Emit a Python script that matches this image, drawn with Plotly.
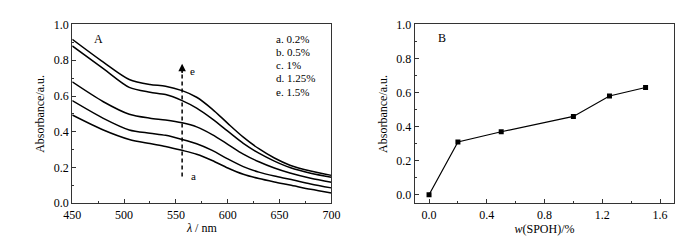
import plotly.graph_objects as go

wavelength = [450, 480, 505, 525, 540, 556, 570, 585, 600, 615, 630, 645, 660, 680, 700]
abs_a = [0.494, 0.410, 0.357, 0.334, 0.318, 0.296, 0.274, 0.239, 0.197, 0.162, 0.138, 0.119, 0.102, 0.078, 0.058]
abs_b = [0.574, 0.475, 0.410, 0.392, 0.380, 0.357, 0.333, 0.296, 0.248, 0.205, 0.174, 0.152, 0.134, 0.108, 0.086]
abs_c = [0.679, 0.568, 0.498, 0.476, 0.466, 0.450, 0.427, 0.384, 0.330, 0.275, 0.232, 0.197, 0.169, 0.140, 0.118]
abs_d = [0.880, 0.753, 0.648, 0.621, 0.608, 0.574, 0.532, 0.472, 0.403, 0.335, 0.280, 0.236, 0.200, 0.168, 0.146]
abs_e = [0.917, 0.789, 0.692, 0.664, 0.655, 0.630, 0.593, 0.527, 0.447, 0.370, 0.305, 0.253, 0.213, 0.180, 0.156]
legend_labels = ["a. 0.2%", "b. 0.5%", "c. 1%", "d. 1.25%", "e. 1.5%"]

spoh = [0.0, 0.2, 0.5, 1.0, 1.25, 1.5]
abs_556 = [0.0, 0.31, 0.37, 0.46, 0.58, 0.63]

FONT = "Liberation Serif, Times New Roman, serif"
fig = go.Figure()

for ys in [abs_a, abs_b, abs_c, abs_d, abs_e]:
    fig.add_trace(go.Scatter(x=wavelength, y=ys, mode="lines",
                             line=dict(color="black", width=1.5, shape="spline", smoothing=0.8),
                             xaxis="x", yaxis="y", showlegend=False))

# dashed arrow
fig.add_trace(go.Scatter(x=[556, 556], y=[0.15, 0.74], mode="lines",
                         line=dict(color="black", width=1.5, dash="4px,3px"),
                         xaxis="x", yaxis="y", showlegend=False))
fig.add_annotation(x=556, y=0.78, ax=556, ay=0.72, xref="x", yref="y", axref="x", ayref="y",
                   showarrow=True, arrowhead=2, arrowsize=1, arrowwidth=1.5, arrowcolor="black", text="")
fig.add_annotation(x=566, y=0.74, xref="x", yref="y", text="e", showarrow=False, font=dict(family=FONT, size=11, color="black"))
fig.add_annotation(x=567, y=0.15, xref="x", yref="y", text="a", showarrow=False, font=dict(family=FONT, size=11, color="black"))
fig.add_annotation(x=475, y=0.92, xref="x", yref="y", text="A", showarrow=False, font=dict(family=FONT, size=12, color="black"))
for i, lab in enumerate(legend_labels):
    fig.add_annotation(x=645, y=0.92 - i * 0.074, xref="x", yref="y", text=lab, showarrow=False, xanchor="left",
                       font=dict(family=FONT, size=11, color="black"))

fig.add_trace(go.Scatter(x=spoh, y=abs_556, mode="lines+markers", line=dict(color="black", width=1.2),
                         marker=dict(symbol="square", size=5, color="black"),
                         xaxis="x2", yaxis="y2", showlegend=False))
fig.add_annotation(x=0.09, y=0.92, xref="x2", yref="y2", text="B", showarrow=False, font=dict(family=FONT, size=12, color="black"))

axis_common = dict(showline=True, linecolor="#333", linewidth=1, mirror=True, ticks="inside", ticklen=4,
                   tickcolor="#333", showgrid=False, zeroline=False,
                   tickfont=dict(family=FONT, size=12, color="black"),
                   title_font=dict(family=FONT, size=12, color="black"))

fig.update_layout(
    width=700, height=240, margin=dict(l=0, r=0, t=0, b=0),
    paper_bgcolor="white", plot_bgcolor="white",
    xaxis=dict(domain=[0.081, 0.461], range=[450, 700], dtick=50, anchor="y",
               minor=dict(dtick=25, ticks="inside", ticklen=2, tickcolor="#333"),
               title=dict(text="<i>λ</i> / nm", standoff=2), **axis_common),
    yaxis=dict(domain=[0.167, 0.958], range=[0, 1.0], dtick=0.2, tickformat=".1f", anchor="x",
               minor=dict(dtick=0.1, ticks="inside", ticklen=2, tickcolor="#333"),
               title=dict(text="Absorbance/a.u.", standoff=6), **axis_common),
    xaxis2=dict(domain=[0.583, 0.964], range=[-0.1, 1.7], dtick=0.4, tick0=0, tickformat=".1f", anchor="y2",
                minor=dict(dtick=0.2, ticks="inside", ticklen=2, tickcolor="#333"),
                title=dict(text="<i>w</i>(SPOH)/%", standoff=2), **axis_common),
    yaxis2=dict(domain=[0.167, 0.958], range=[-0.05, 1.0], dtick=0.2, tick0=0, tickformat=".1f", anchor="x2",
                minor=dict(dtick=0.1, ticks="inside", ticklen=2, tickcolor="#333"),
                title=dict(text="Absorbance/a.u.", standoff=6), **axis_common),
)

fig.write_html("out.html")
